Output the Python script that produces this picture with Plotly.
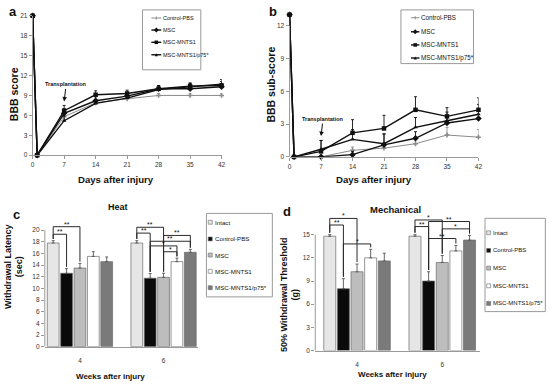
import plotly.graph_objects as go

W, H = 553, 385
FONT = "Liberation Sans"

# ---------------- data ----------------
days = [0, 1, 7, 14, 21, 28, 35, 42]
day_ticks = [0, 7, 14, 21, 28, 35, 42]
line_names = ["Control-PBS", "MSC", "MSC-MNTS1", "MSC-MNTS1/p75*"]

# (a) BBB score
bbb_control = [21, 0, 5.8, 7.9, 8.5, 9.0, 9.0, 9.0]
bbb_msc = [21, 0, 6.3, 8.2, 8.9, 10.0, 10.0, 10.3]
bbb_mnts1 = [21, 0, 6.7, 9.1, 9.3, 10.0, 10.4, 10.5]
bbb_p75 = [21, 0, 5.2, 7.8, 8.6, 9.9, 10.3, 10.7]
bbb_control_err = [0, 0, 0.5, 0.5, 0.4, 0.3, 0.3, 0.3]
bbb_msc_err = [0, 0, 0.7, 0.6, 0.5, 0.5, 0.5, 0.5]
bbb_mnts1_err = [0, 0, 0.8, 0.6, 0.5, 0.5, 0.5, 0.6]
bbb_p75_err = [0, 0, 0.7, 0.6, 0.5, 0.5, 0.5, 0.7]
bbb_ticks = [0, 3, 6, 9, 12, 15, 18, 21]

# (b) BBB sub-score
sub_control = [13, 0, 0.0, 0.6, 0.8, 1.2, 2.0, 1.8]
sub_msc = [13, 0, 0.0, 0.2, 1.1, 1.7, 3.1, 3.5]
sub_mnts1 = [13, 0, 0.5, 2.2, 2.6, 4.3, 3.7, 4.3]
sub_p75 = [13, 0, 0.7, 1.6, 1.2, 2.7, 3.3, 3.9]
sub_control_err = [0, 0, 0, 0.3, 0.4, 0.4, 0.7, 0.7]
sub_msc_err = [0, 0, 0, 0.3, 1.0, 0.6, 0.6, 0.8]
sub_mnts1_err = [0, 0, 1.0, 1.2, 1.2, 1.2, 0.8, 1.1]
sub_p75_err = [0, 0, 0.8, 0.9, 0.9, 0.9, 0.8, 0.9]
sub_ticks = [0, 3, 6, 9, 12]

# (c) Heat, (d) Mechanical
weeks = ["4", "6"]
bar_names = ["Intact", "Control-PBS", "MSC", "MSC-MNTS1", "MSC-MNTS1/p75*"]
heat_intact = [17.8, 17.8]
heat_control = [12.6, 11.75]
heat_msc = [13.5, 11.9]
heat_mnts1 = [15.5, 14.6]
heat_p75 = [14.6, 16.2]
heat_intact_err = [0.4, 0.4]
heat_control_err = [0.8, 0.8]
heat_msc_err = [0.8, 0.7]
heat_mnts1_err = [0.8, 0.6]
heat_p75_err = [0.8, 0.5]
heat_ticks = [0, 2, 4, 6, 8, 10, 12, 14, 16, 18, 20]
# (week index, bar i, bar j, bracket height, label)
heat_brackets = [
    (0, 0, 2, 20.6, "**"), (0, 0, 1, 19.3, "**"),
    (1, 0, 2, 20.5, "**"), (1, 0, 1, 19.5, "**"), (1, 2, 4, 19.1, "**"),
    (1, 1, 4, 18.1, "**"), (1, 1, 3, 17.3, "*"), (1, 2, 3, 16.3, "*"),
]

mech_intact = [14.8, 14.8]
mech_control = [8.0, 9.0]
mech_msc = [10.2, 11.4]
mech_mnts1 = [12.0, 12.9]
mech_p75 = [11.6, 14.3]
mech_intact_err = [0.2, 0.2]
mech_control_err = [1.3, 1.2]
mech_msc_err = [1.0, 0.9]
mech_mnts1_err = [1.1, 0.7]
mech_p75_err = [1.0, 0.6]
mech_ticks = [0, 3, 6, 9, 12, 15]
mech_brackets = [
    (0, 0, 2, 17.1, "*"), (0, 0, 1, 16.25, "**"), (0, 1, 3, 13.8, "*"),
    (1, 0, 2, 16.9, "*"), (1, 0, 1, 16.05, "**"), (1, 1, 4, 16.7, "**"),
    (1, 2, 4, 15.75, "*"), (1, 1, 3, 14.5, "**"),
]

# ---------------- helpers ----------------
def px(x):
    return x / W


def py(y):
    return 1 - y / H


fig = go.Figure()

line_style = {
    "Control-PBS": dict(color="#8c8c8c", width=1.0, symbol="cross", size=4),
    "MSC": dict(color="#111111", width=1.4, symbol="diamond", size=5),
    "MSC-MNTS1": dict(color="#111111", width=1.4, symbol="square", size=4.5),
    "MSC-MNTS1/p75*": dict(color="#111111", width=1.4, symbol="triangle-up", size=4),
}

bbb_vals = [bbb_control, bbb_msc, bbb_mnts1, bbb_p75]
bbb_errs = [bbb_control_err, bbb_msc_err, bbb_mnts1_err, bbb_p75_err]
sub_vals = [sub_control, sub_msc, sub_mnts1, sub_p75]
sub_errs = [sub_control_err, sub_msc_err, sub_mnts1_err, sub_p75_err]

for vals, errs, xa, ya in [(bbb_vals, bbb_errs, "x", "y"), (sub_vals, sub_errs, "x2", "y2")]:
    for name, v, e in zip(line_names, vals, errs):
        st = line_style[name]
        fig.add_trace(go.Scatter(
            x=days, y=v, mode="lines+markers", name=name, showlegend=False,
            line=dict(color=st["color"], width=st["width"]),
            marker=dict(symbol=st["symbol"], size=st["size"], color=st["color"]),
            error_y=dict(type="data", symmetric=False, array=e, arrayminus=[0] * len(e),
                         color=st["color"], thickness=0.9, width=1.5),
            cliponaxis=False, xaxis=xa, yaxis=ya,
        ))

bar_style = {
    "Intact": "#e6e6e6",
    "Control-PBS": "#0a0a0a",
    "MSC": "#bdbdbd",
    "MSC-MNTS1": "#ffffff",
    "MSC-MNTS1/p75*": "#7a7a7a",
}
BARGAP = 0.2
SLOT = (1 - BARGAP) / len(bar_names)

heat_vals = [heat_intact, heat_control, heat_msc, heat_mnts1, heat_p75]
heat_errs = [heat_intact_err, heat_control_err, heat_msc_err, heat_mnts1_err, heat_p75_err]
mech_vals = [mech_intact, mech_control, mech_msc, mech_mnts1, mech_p75]
mech_errs = [mech_intact_err, mech_control_err, mech_msc_err, mech_mnts1_err, mech_p75_err]
group_pos = list(range(len(weeks)))

for vals, errs, xa, ya in [(heat_vals, heat_errs, "x3", "y3"), (mech_vals, mech_errs, "x4", "y4")]:
    for name, v, e in zip(bar_names, vals, errs):
        fig.add_trace(go.Bar(
            x=group_pos, y=v, name=name, showlegend=False,
            marker=dict(color=bar_style[name], line=dict(color="#6a6a6a", width=0.7)),
            error_y=dict(type="data", symmetric=False, array=e, arrayminus=[0] * len(e),
                         color="#555555", thickness=0.9, width=1.5),
            xaxis=xa, yaxis=ya,
        ))


def add_brackets(brackets, vals, errs, xa, ya, gap):
    for g, i, j, h, lab in brackets:
        xi = g + (i - (len(bar_names) - 1) / 2) * SLOT
        xj = g + (j - (len(bar_names) - 1) / 2) * SLOT
        yi = vals[i][g] + errs[i][g] + gap
        yj = vals[j][g] + errs[j][g] + gap
        fig.add_shape(type="path", path=f"M {xi},{yi} L {xi},{h} L {xj},{h} L {xj},{yj}",
                      xref=xa, yref=ya, line=dict(color="#2a2a2a", width=1))
        fig.add_annotation(x=(xi + xj) / 2, y=h, xref=xa, yref=ya, text=lab, showarrow=False,
                           yanchor="bottom", yshift=-3,
                           font=dict(family=FONT, size=7, color="#111111"))


add_brackets(heat_brackets, heat_vals, heat_errs, "x3", "y3", 0.3)
add_brackets(mech_brackets, mech_vals, mech_errs, "x4", "y4", 0.25)

# ---------------- axes ----------------
tickfont = dict(family=FONT, size=6.5, color="#333333")
common = dict(showgrid=False, zeroline=False, tickfont=tickfont, fixedrange=True)

heat_xr = [-0.42, 1.41]
mech_xr = [-0.49, 1.44]

fig.update_layout(
    width=W, height=H, margin=dict(l=0, r=0, t=0, b=0),
    paper_bgcolor="white", plot_bgcolor="white",
    font=dict(family=FONT), barmode="group", bargap=BARGAP, bargroupgap=0.12,
    showlegend=False,
    xaxis=dict(domain=[px(31), px(222)], range=[0, 42], tickvals=day_ticks, anchor="y",
               showline=True, linecolor="#999999", ticks="outside", ticklen=3, tickcolor="#999999", **common),
    yaxis=dict(domain=[py(154), py(12)], range=[0, 21], tickvals=bbb_ticks, anchor="x",
               showline=True, linecolor="#999999", ticks="outside", ticklen=3, tickcolor="#999999", **common),
    xaxis2=dict(domain=[px(290.7), px(481.7)], range=[0, 42], tickvals=day_ticks, anchor="y2",
                showline=True, linecolor="#999999", ticks="outside", ticklen=3, tickcolor="#999999", **common),
    yaxis2=dict(domain=[py(155.7), py(10.9)], range=[0, 13], tickvals=sub_ticks, anchor="x2",
                showline=False, ticks="outside", ticklen=3, tickcolor="#999999", **common),
    xaxis3=dict(domain=[px(43.3), px(198)], range=heat_xr, tickvals=group_pos, ticktext=weeks, anchor="y3",
                showline=True, linecolor="#999999", ticks="", ticklabelstandoff=8, **common),
    yaxis3=dict(domain=[py(349), py(219.7)], range=[0, 21.8], tickvals=heat_ticks, anchor="x3",
                showline=False, ticks="outside", ticklen=3, tickcolor="#999999", **common),
    xaxis4=dict(domain=[px(316.7), px(483)], range=mech_xr, tickvals=group_pos, ticktext=weeks, anchor="y4",
                showline=True, linecolor="#999999", ticks="", ticklabelstandoff=8, **common),
    yaxis4=dict(domain=[py(353), py(206.6)], range=[0, 18.6], tickvals=mech_ticks, anchor="x4",
                showline=False, ticks="outside", ticklen=3, tickcolor="#999999", **common),
)

# y-axis lines limited to the labelled range
for xa, ya, top in [("x2", "y2", sub_ticks[-1]), ("x3", "y3", heat_ticks[-1]), ("x4", "y4", mech_ticks[-1])]:
    fig.add_shape(type="line", xref=f"{xa} domain", yref=ya, x0=0, x1=0, y0=0, y1=top,
                  line=dict(color="#999999", width=1))

# ---------------- text ----------------
def txt(x, y, s, size, bold=True, angle=0, color="#111111", xanchor="center"):
    fig.add_annotation(x=px(x), y=py(y), xref="paper", yref="paper", text=f"<b>{s}</b>" if bold else s,
                       showarrow=False, textangle=angle, xanchor=xanchor, yanchor="middle",
                       font=dict(family=FONT, size=size, color=color))


txt(11, 8, "a", 13)
txt(274, 8, "b", 13)
txt(15, 214, "c", 13)
txt(288, 211, "d", 13)

txt(12, 92, "BBB score", 10.5, angle=-90)
txt(271.5, 82.5, "BBB sub-score", 10.5, angle=-90)
txt(12, 268, "Withdrawal Latency<br>(sec)", 9, angle=-90)
txt(291, 296.5, "50% Withdrawal Threshold<br>(g)", 9, angle=-90)

txt(115, 179, "Days after injury", 9.6)
txt(376, 179, "Days after injury", 9.6)
txt(110, 379, "Weeks after injury", 8)
txt(395, 377.5, "Weeks after injury", 8)
txt(117, 207, "Heat", 9)
txt(398, 209, "Mechanical", 9.5)

# Transplantation arrows
for xa, ya, tip in [("x", "y", 8.1), ("x2", "y2", 1.9)]:
    fig.add_annotation(x=days[2], y=tip, xref=xa, yref=ya, text="<b>Transplantation</b>",
                       showarrow=True, arrowhead=2, arrowsize=0.9, arrowwidth=1, arrowcolor="#111111",
                       ax=2, ay=-17, font=dict(family=FONT, size=5.5, color="#111111"))

# ---------------- manual legends (shapes + text in paper space) ----------------
def box(x0, y0, x1, y1):
    fig.add_shape(type="rect", xref="paper", yref="paper", x0=px(x0), x1=px(x1), y0=py(y1), y1=py(y0),
                  line=dict(color="#9a9a9a", width=1), fillcolor="white", layer="above")


def marker_shape(cx, cy, symbol, s, color):
    r = s / 2
    if symbol == "square":
        fig.add_shape(type="rect", xref="paper", yref="paper", x0=px(cx - r), x1=px(cx + r),
                      y0=py(cy + r), y1=py(cy - r), fillcolor=color, line=dict(width=0), layer="above")
        return
    if symbol == "diamond":
        pts = [(cx, cy - r - 0.5), (cx + r + 0.5, cy), (cx, cy + r + 0.5), (cx - r - 0.5, cy)]
    elif symbol == "triangle-up":
        pts = [(cx, cy - r), (cx + r, cy + r), (cx - r, cy + r)]
    else:  # cross
        fig.add_shape(type="line", xref="paper", yref="paper", x0=px(cx), x1=px(cx),
                      y0=py(cy - r), y1=py(cy + r), line=dict(color=color, width=1), layer="above")
        return
    path = "M " + " L ".join(f"{px(a)},{py(b)}" for a, b in pts) + " Z"
    fig.add_shape(type="path", xref="paper", yref="paper", path=path, fillcolor=color,
                  line=dict(width=0), layer="above")


def line_legend(x0, y0, x1, y1, ys, kx0, kx1, tx, size):
    box(x0, y0, x1, y1)
    for name, yy in zip(line_names, ys):
        st = line_style[name]
        fig.add_shape(type="line", xref="paper", yref="paper", x0=px(kx0), x1=px(kx1), y0=py(yy), y1=py(yy),
                      line=dict(color=st["color"], width=st["width"]), layer="above")
        marker_shape((kx0 + kx1) / 2, yy, st["symbol"], st["size"] * 0.8, st["color"])
        fig.add_annotation(x=px(tx), y=py(yy), xref="paper", yref="paper", text=name, showarrow=False,
                           xanchor="left", yanchor="middle", font=dict(family=FONT, size=size, color="#111111"))


def bar_legend(x0, y0, x1, y1, ys, kx, tx, size):
    box(x0, y0, x1, y1)
    for name, yy in zip(bar_names, ys):
        fig.add_shape(type="rect", xref="paper", yref="paper", x0=px(kx - 2), x1=px(kx + 2),
                      y0=py(yy + 2), y1=py(yy - 2), fillcolor=bar_style[name],
                      line=dict(color="#6a6a6a", width=0.6), layer="above")
        fig.add_annotation(x=px(tx), y=py(yy), xref="paper", yref="paper", text=name, showarrow=False,
                           xanchor="left", yanchor="middle", font=dict(family=FONT, size=size, color="#111111"))


line_legend(142, 6, 201, 67, [14.3, 26.5, 39, 51.7], 151, 161, 161, 5.5)
line_legend(403.3, 6, 476.7, 60.7, [14, 28.3, 41.7, 55], 413.5, 422, 422, 6.3)
bar_legend(206.7, 213.3, 273.3, 298.3, [222.3, 239.3, 255.7, 272.3, 289], 210.5, 213, 6.2)
bar_legend(488.3, 218.3, 549.3, 313.3, [233, 251, 269, 287, 305], 492, 494.5, 6)

post = "document.body.style.margin='0';document.body.style.padding='0';"
fig.write_html("out.html", post_script=post, config={"displayModeBar": False})
